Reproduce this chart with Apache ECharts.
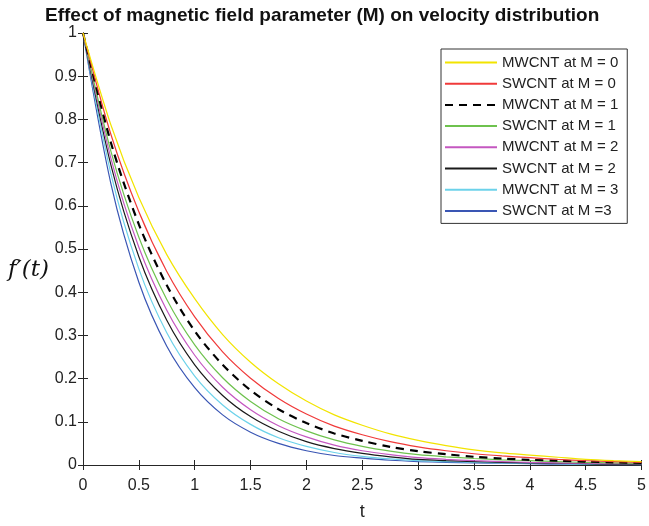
<!DOCTYPE html>
<html>
<head>
<meta charset="utf-8">
<title>Effect of magnetic field parameter (M) on velocity distribution</title>
<script src="https://cdn.jsdelivr.net/npm/echarts@6/dist/echarts.min.js"></script>
<style>
  html, body { margin: 0; padding: 0; background: #fff; }
  #chart { width: 649px; height: 526px; }
</style>
</head>
<body>
<div id="chart"></div>
<script>
// time points (t)
var tValues = [0, 0.25, 0.5, 0.75, 1, 1.25, 1.5, 1.75, 2, 2.25, 2.5, 2.75, 3, 3.25, 3.5, 3.75, 4, 4.25, 4.5, 4.75, 5];

// f'(t)
var mwcntM0 = [1, 0.787, 0.619, 0.487, 0.385, 0.302, 0.238, 0.188, 0.148, 0.116, 0.092, 0.072, 0.057, 0.045, 0.035, 0.028, 0.023, 0.018, 0.013, 0.010, 0.008];
var swcntM0 = [1, 0.765, 0.586, 0.448, 0.343, 0.262, 0.201, 0.154, 0.118, 0.090, 0.070, 0.054, 0.042, 0.033, 0.026, 0.021, 0.017, 0.013, 0.010, 0.008, 0.006];
var mwcntM1 = [1, 0.746, 0.557, 0.416, 0.310, 0.232, 0.173, 0.129, 0.097, 0.073, 0.056, 0.042, 0.032, 0.025, 0.019, 0.015, 0.012, 0.010, 0.008, 0.006, 0.005];
var swcntM1 = [1, 0.726, 0.527, 0.383, 0.278, 0.202, 0.147, 0.107, 0.079, 0.058, 0.043, 0.032, 0.024, 0.019, 0.015, 0.012, 0.010, 0.008, 0.006, 0.005, 0.004];
var mwcntM2 = [1, 0.710, 0.504, 0.358, 0.254, 0.180, 0.128, 0.091, 0.065, 0.046, 0.033, 0.024, 0.017, 0.013, 0.010, 0.008, 0.006, 0.005, 0.004, 0.003, 0.003];
var swcntM2 = [1, 0.694, 0.482, 0.335, 0.232, 0.161, 0.112, 0.078, 0.054, 0.038, 0.027, 0.019, 0.013, 0.010, 0.008, 0.006, 0.005, 0.004, 0.003, 0.002, 0.002];
var mwcntM3 = [1, 0.674, 0.454, 0.306, 0.206, 0.139, 0.094, 0.063, 0.043, 0.029, 0.020, 0.014, 0.010, 0.008, 0.006, 0.005, 0.004, 0.003, 0.002, 0.002, 0.001];
var swcntM3 = [1, 0.651, 0.423, 0.275, 0.179, 0.116, 0.076, 0.050, 0.033, 0.022, 0.016, 0.011, 0.008, 0.006, 0.005, 0.004, 0.003, 0.002, 0.002, 0.001, 0.001];

var seriesNames = ['MWCNT at M = 0', 'SWCNT at M = 0', 'MWCNT at M = 1', 'SWCNT at M = 1',
                   'MWCNT at M = 2', 'SWCNT at M = 2', 'MWCNT at M = 3', 'SWCNT at M =3'];
var seriesValues = [mwcntM0, swcntM0, mwcntM1, swcntM1, mwcntM2, swcntM2, mwcntM3, swcntM3];
var seriesColors = ['#f2e400', '#f03a3a', '#000000', '#6ec24e', '#c457c0', '#1a1a1a', '#6cd2ea', '#3a56b4'];

var axisColor = '#262626';
var tickFont = { color: '#222', fontSize: 16, fontFamily: 'Liberation Sans, Arial, sans-serif' };

function pairs(vals) {
  var out = [];
  for (var i = 0; i < tValues.length; i++) {
    out.push([tValues[i], vals[i]]);
  }
  return out;
}

var seriesList = [];
for (var i = 0; i < seriesNames.length; i++) {
  var dashed = (i == 2);
  seriesList.push({
    name: seriesNames[i],
    type: 'line',
    data: pairs(seriesValues[i]),
    symbol: 'none',
    smooth: 0.3,
    lineStyle: {
      color: seriesColors[i],
      width: dashed ? 2.2 : 1.2,
      type: dashed ? [8, 6] : 'solid'
    },
    itemStyle: { color: seriesColors[i] },
    z: 10 - i
  });
}

var chart = echarts.init(document.getElementById('chart'));
var option = {
  animation: false,
  backgroundColor: '#fff',
  title: {
    text: 'Effect of magnetic field parameter (M) on velocity distribution',
    left: 40,
    top: 1,
    textStyle: { fontSize: 19, fontWeight: 'bold', color: '#111', fontFamily: 'Liberation Sans, Arial, sans-serif' }
  },
  legend: {
    orient: 'vertical',
    left: 441,
    top: 49,
    padding: [6, 9, 5, 3],
    itemWidth: 52,
    itemHeight: 14,
    itemGap: 6.2,
    borderColor: '#333',
    borderWidth: 1,
    backgroundColor: '#fff',
    itemStyle: { color: 'rgba(0,0,0,0)', borderWidth: 0, opacity: 0 },
    textStyle: { fontSize: 15, color: '#222', fontFamily: 'Liberation Sans, Arial, sans-serif' },
    data: seriesNames
  },
  grid: { left: 83, right: 6, top: 33, bottom: 55, containLabel: false },
  xAxis: [{
    type: 'value',
    min: 0, max: 5, interval: 0.5,
    name: 't',
    nameLocation: 'middle',
    nameGap: 38,
    nameTextStyle: { fontSize: 18, color: '#222', fontFamily: 'Liberation Sans, Arial, sans-serif' },
    axisLine: { show: true, lineStyle: { color: axisColor, width: 1 } },
    axisTick: { show: true, inside: true, length: 5, lineStyle: { color: axisColor } },
    axisLabel: Object.assign({ margin: 13 }, tickFont),
    splitLine: { show: false }
  }, {
    type: 'value',
    position: 'top',
    min: 0, max: 5, interval: 0.5,
    axisLine: { show: true, lineStyle: { color: axisColor, width: 1 } },
    axisTick: { show: true, inside: true, length: 5, lineStyle: { color: axisColor } },
    axisLabel: { show: false },
    splitLine: { show: false }
  }],
  yAxis: [{
    type: 'value',
    min: 0, max: 1, interval: 0.1,
    axisLine: { show: true, lineStyle: { color: axisColor, width: 1 } },
    axisTick: { show: true, inside: true, length: 5, lineStyle: { color: axisColor } },
    axisLabel: Object.assign({ margin: 6 }, tickFont),
    splitLine: { show: false }
  }, {
    type: 'value',
    position: 'right',
    min: 0, max: 1, interval: 0.1,
    axisLine: { show: true, lineStyle: { color: axisColor, width: 1 } },
    axisTick: { show: true, inside: true, length: 5, lineStyle: { color: axisColor } },
    axisLabel: { show: false },
    splitLine: { show: false }
  }],
  graphic: [{
    type: 'text',
    left: 8,
    top: 259,
    style: {
      text: "f′(t)",
      fontSize: 23,
      fontStyle: 'italic',
      fontFamily: 'DejaVu Serif, Liberation Serif, serif',
      fill: '#111'
    }
  }],
  series: seriesList
};
chart.setOption(option);
</script>
</body>
</html>
